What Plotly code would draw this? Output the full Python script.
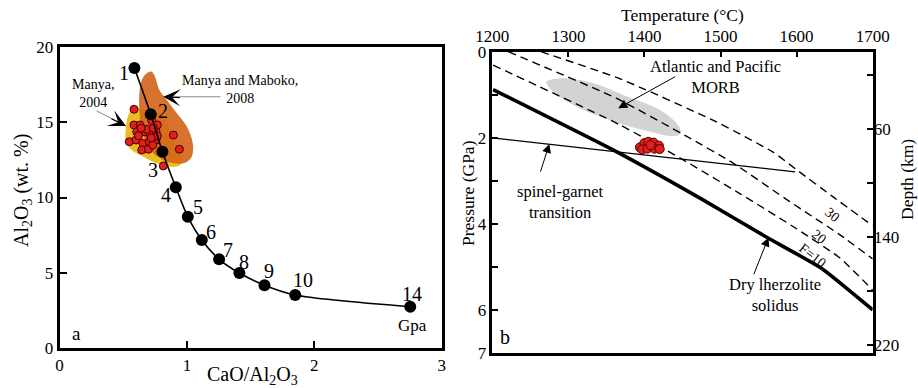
import plotly.graph_objects as go

# ---------------- Panel a data ----------------
cao_al2o3 = [0.588, 0.716, 0.808, 0.913, 1.007, 1.117, 1.253, 1.412, 1.609, 1.850, 2.753]
al2o3 = [18.59, 15.52, 13.04, 10.68, 8.73, 7.18, 5.90, 4.99, 4.18, 3.53, 2.76]
pressure_labels = ['1', '2', '3', '4', '5', '6', '7', '8', '9', '10', '14']

sample_cao = [0.585, 0.585, 0.632, 0.724, 0.768, 0.664, 0.711, 0.758, 0.606, 0.548,
              0.601, 0.654, 0.705, 0.758, 0.768, 0.646, 0.698, 0.732, 0.894, 0.941,
              0.815, 0.685, 0.737, 0.640, 0.720, 0.620]
sample_al = [15.85, 14.81, 14.81, 15.09, 14.81, 14.36, 14.20, 14.36, 14.36, 13.70,
             13.81, 13.59, 13.70, 13.81, 14.08, 13.15, 13.20, 13.48, 14.14, 13.20,
             12.09, 14.52, 14.59, 14.60, 13.95, 14.10]

manya2004_x = [0.548, 0.606, 0.685, 0.764, 0.842, 0.894, 0.960, 0.947, 0.868, 0.764,
               0.658, 0.567, 0.522, 0.520, 0.548]
manya2004_y = [15.58, 15.92, 15.80, 15.58, 14.92, 13.81, 12.71, 12.16, 12.04, 12.27,
               12.71, 13.15, 13.70, 14.48, 15.58]

maboko2008_x = [0.685, 0.724, 0.750, 0.784, 0.842, 0.921, 0.999, 1.046, 1.038, 0.986,
                0.894, 0.815, 0.737, 0.685, 0.646, 0.627, 0.627, 0.646, 0.685]
maboko2008_y = [18.24, 18.34, 18.01, 17.13, 16.47, 15.58, 14.70, 13.59, 12.71, 12.31,
                12.27, 12.49, 12.93, 13.59, 14.48, 15.80, 16.91, 17.79, 18.24]

# ---------------- Panel b data ----------------
temp_ticks = [1200, 1300, 1400, 1500, 1600, 1700]
press_ticks = [0, 1, 2, 3, 4, 5, 6, 7]
press_labels = ['0', '', '2', '', '4', '', '6', '7']
depth_ticks = [20, 60, 100, 140, 180, 220]
depth_labels = ['', '60', '', '140', '', '220']

solidus_T = [1201, 1363, 1477, 1563, 1633, 1700]
solidus_P = [0.88, 2.32, 3.44, 4.33, 5.03, 5.99]

f10_T = [1201, 1368, 1447, 1526, 1600, 1657, 1700]
f10_P = [0.31, 1.70, 2.47, 3.30, 4.11, 4.79, 5.53]
f20_T = [1221, 1363, 1455, 1517, 1591, 1657, 1700]
f20_P = [0.00, 1.08, 1.96, 2.59, 3.48, 4.25, 4.81]
f30_T = [1264, 1368, 1490, 1569, 1600, 1648, 1700]
f30_P = [0.00, 0.63, 1.59, 2.33, 2.74, 3.37, 4.04]

sg_T = [1200, 1598]
sg_P = [2.00, 2.79]

morb_T = [1271, 1289, 1333, 1377, 1420, 1444, 1448, 1438, 1399, 1355, 1311, 1280, 1271]
morb_P = [0.70, 0.62, 0.73, 1.04, 1.35, 1.70, 1.89, 1.96, 1.82, 1.59, 1.28, 0.93, 0.70]

sample_T = [1394, 1400, 1405, 1412, 1419, 1397, 1404, 1413, 1420, 1408]
sample_P = [2.22, 2.12, 2.09, 2.11, 2.18, 2.27, 2.25, 2.25, 2.26, 2.17]

# ---------------- figure ----------------
W, H = 918, 388
FONT = "Liberation Serif, Times New Roman, serif"


def pxx(x):
    return x / W


def pxy(y):
    return 1 - y / H


fig = go.Figure()

# Panel a
fig.add_trace(go.Scatter(x=manya2004_x, y=manya2004_y, mode='lines', fill='toself',
                         line=dict(width=0, shape='spline', smoothing=1.0),
                         fillcolor='#ecbd22', xaxis='x', yaxis='y', hoverinfo='skip'))
fig.add_trace(go.Scatter(x=maboko2008_x, y=maboko2008_y, mode='lines', fill='toself',
                         line=dict(width=0, shape='spline', smoothing=1.0),
                         fillcolor='rgba(211,100,24,0.9)', xaxis='x', yaxis='y', hoverinfo='skip'))
fig.add_trace(go.Scatter(x=sample_cao, y=sample_al, mode='markers',
                         marker=dict(size=8, color='#e0201c', line=dict(color='#4a0000', width=1)),
                         xaxis='x', yaxis='y'))
fig.add_trace(go.Scatter(x=cao_al2o3, y=al2o3, mode='lines+markers',
                         line=dict(color='black', width=1.6, shape='spline', smoothing=0.8),
                         marker=dict(size=12, color='black'),
                         xaxis='x', yaxis='y'))

# Panel b
fig.add_trace(go.Scatter(x=morb_T, y=morb_P, mode='lines', fill='toself',
                         line=dict(width=0, shape='spline', smoothing=1.0),
                         fillcolor='#d3d3d3', xaxis='x2', yaxis='y2', hoverinfo='skip'))
for tt, pp in [(f10_T, f10_P), (f20_T, f20_P), (f30_T, f30_P)]:
    fig.add_trace(go.Scatter(x=tt, y=pp, mode='lines',
                             line=dict(color='black', width=1.4, dash='8px,5px', shape='spline', smoothing=0.5),
                             xaxis='x2', yaxis='y2'))
fig.add_trace(go.Scatter(x=sg_T, y=sg_P, mode='lines', line=dict(color='black', width=1.3),
                         xaxis='x2', yaxis='y2'))
fig.add_trace(go.Scatter(x=solidus_T, y=solidus_P, mode='lines',
                         line=dict(color='black', width=3.6, shape='spline', smoothing=0.4),
                         xaxis='x2', yaxis='y2'))
fig.add_trace(go.Scatter(x=sample_T, y=sample_P, mode='markers',
                         marker=dict(size=9, color='#e0201c', line=dict(color='#5a0000', width=1)),
                         xaxis='x2', yaxis='y2'))
# invisible trace for depth axis
fig.add_trace(go.Scatter(x=[1200], y=[100], mode='markers', marker=dict(opacity=0),
                         xaxis='x2', yaxis='y3', hoverinfo='skip'))

axis_common = dict(showline=True, linecolor='black', linewidth=2.5, mirror=True,
                   showgrid=False, zeroline=False, ticks='inside', tickcolor='black',
                   tickwidth=1.5, automargin=False,
                   tickfont=dict(family=FONT, size=17, color='black'))

fig.update_layout(
    width=W, height=H, margin=dict(l=0, r=0, t=0, b=0, pad=0),
    paper_bgcolor='white', plot_bgcolor='white', showlegend=False,
    font=dict(family=FONT, color='black'),
    xaxis=dict(domain=[pxx(59.5), pxx(441.7)], range=[0, 3], anchor='y',
               tickvals=[0, 1, 2, 3], ticklen=8, **axis_common),
    yaxis=dict(domain=[pxy(348.3), pxy(46.7)], range=[0, 20], anchor='x',
               tickvals=[0, 5, 10, 15, 20], ticklen=8, **axis_common),
    xaxis2=dict(domain=[pxx(492.3), pxx(872.7)], range=[1200, 1700], anchor='y2', side='top',
                tickvals=temp_ticks, ticklen=6, **axis_common),
    yaxis2=dict(domain=[pxy(353.3), pxy(51.7)], range=[7, 0], anchor='x2',
                tickvals=press_ticks, ticktext=press_labels, ticklen=6, **axis_common),
    yaxis3=dict(overlaying='y2', side='right', anchor='x2', range=[226.1, 2.74],
                tickvals=depth_ticks, ticktext=depth_labels, showgrid=False, zeroline=False,
                showline=False, ticks='inside', ticklen=6, tickwidth=1.5, tickcolor='black',
                automargin=False,
                tickfont=dict(family=FONT, size=17, color='black')),
)

ann = []
# axis titles
ann.append(dict(text='Al<sub>2</sub>O<sub>3</sub> (wt. %)', x=pxx(22), y=pxy(191), xref='paper', yref='paper',
                textangle=-90, showarrow=False, font=dict(size=20)))
ann.append(dict(text='CaO/Al<sub>2</sub>O<sub>3</sub>', x=pxx(252), y=pxy(375), xref='paper', yref='paper',
                showarrow=False, font=dict(size=20)))
ann.append(dict(text='Temperature (°C)', x=pxx(682), y=pxy(15), xref='paper', yref='paper',
                showarrow=False, font=dict(size=17.5)))
ann.append(dict(text='Pressure (GPa)', x=pxx(468), y=pxy(193), xref='paper', yref='paper',
                textangle=-90, showarrow=False, font=dict(size=17.5)))
ann.append(dict(text='Depth (km)', x=pxx(907), y=pxy(180), xref='paper', yref='paper',
                textangle=-90, showarrow=False, font=dict(size=17.5)))
ann.append(dict(text='a', x=pxx(76), y=pxy(333), xref='paper', yref='paper', showarrow=False,
                font=dict(size=19)))
ann.append(dict(text='b', x=pxx(505), y=pxy(337), xref='paper', yref='paper', showarrow=False,
                font=dict(size=20)))

# pressure labels on the melting curve
offsets = [(-10, 5), (12, -3), (-9, 18), (-10, 8), (10, -10), (9, -8), (9, -9), (5, -11),
           (5, -14), (8, -15), (2, -13)]
for xv, yv, lab, (dx, dy) in zip(cao_al2o3, al2o3, pressure_labels, offsets):
    ann.append(dict(text=lab, x=xv, y=yv, xref='x', yref='y', xshift=dx, yshift=-dy,
                    showarrow=False, font=dict(size=20)))
ann.append(dict(text='Gpa', x=cao_al2o3[-1], y=al2o3[-1], xref='x', yref='y', xshift=2, yshift=-19,
                showarrow=False, font=dict(size=17)))

# Manya 2004 label + arrow
ann.append(dict(text='Manya,<br>2004', x=0.261, y=16.9, xref='x', yref='y', showarrow=False,
                font=dict(size=14)))
ann.append(dict(text='Manya and Maboko,<br>2008', x=1.418, y=17.15, xref='x', yref='y', showarrow=False,
                font=dict(size=14)))
ann.append(dict(text='', x=0.522, y=14.74, ax=0.279, ay=15.80, xref='x', yref='y', axref='x', ayref='y',
                showarrow=True, arrowhead=0, arrowwidth=1, arrowcolor='#888888'))
ann.append(dict(text='', x=0.522, y=14.74, ax=-16, ay=-8, xref='x', yref='y',
                showarrow=True, arrowhead=3, arrowsize=2.4, arrowwidth=1.2, arrowcolor='black'))
ann.append(dict(text='', x=0.815, y=16.68, ax=1.274, ay=16.68, xref='x', yref='y', axref='x', ayref='y',
                showarrow=True, arrowhead=0, arrowwidth=1, arrowcolor='#888888'))
ann.append(dict(text='', x=0.815, y=16.68, ax=18, ay=1, xref='x', yref='y',
                showarrow=True, arrowhead=3, arrowsize=2.4, arrowwidth=1.2, arrowcolor='black'))

# Panel b labels
ann.append(dict(text='Atlantic and Pacific<br>MORB', x=1493, y=0.59, xref='x2', yref='y2', showarrow=False,
                font=dict(size=16.5)))
ann.append(dict(text='', x=1365.6, y=1.31, ax=1442.4, ay=0.56, xref='x2', yref='y2', axref='x2', ayref='y2',
                showarrow=True, arrowhead=2, arrowsize=1.8, arrowwidth=1, arrowcolor='black'))
ann.append(dict(text='spinel-garnet<br>transition', x=1289, y=3.48, xref='x2', yref='y2', showarrow=False,
                font=dict(size=16.5)))
ann.append(dict(text='', x=1275, y=2.14, ax=1262.7, ay=2.82, xref='x2', yref='y2', axref='x2', ayref='y2',
                showarrow=True, arrowhead=2, arrowsize=1.8, arrowwidth=1, arrowcolor='black'))
ann.append(dict(text='Dry lherzolite<br>solidus', x=1572, y=5.65, xref='x2', yref='y2', showarrow=False,
                font=dict(size=16.5)))
ann.append(dict(text='', x=1563, y=4.31, ax=1543, ay=5.20, xref='x2', yref='y2', axref='x2', ayref='y2',
                showarrow=True, arrowhead=2, arrowsize=1.8, arrowwidth=1, arrowcolor='black'))

for txt, tv, pv in [('30', 1646, 3.79), ('20', 1629, 4.29), ('F=10', 1621, 4.72)]:
    ann.append(dict(text=txt, x=tv, y=pv, xref='x2', yref='y2', showarrow=False, textangle=38,
                    font=dict(size=14)))

for a in ann:
    a.setdefault('font', {})
    a['font'].setdefault('family', FONT)
    a['font'].setdefault('color', 'black')
    a.setdefault('xanchor', 'center')
    a.setdefault('yanchor', 'middle')

fig.update_layout(annotations=ann)
fig.write_html("out.html")
